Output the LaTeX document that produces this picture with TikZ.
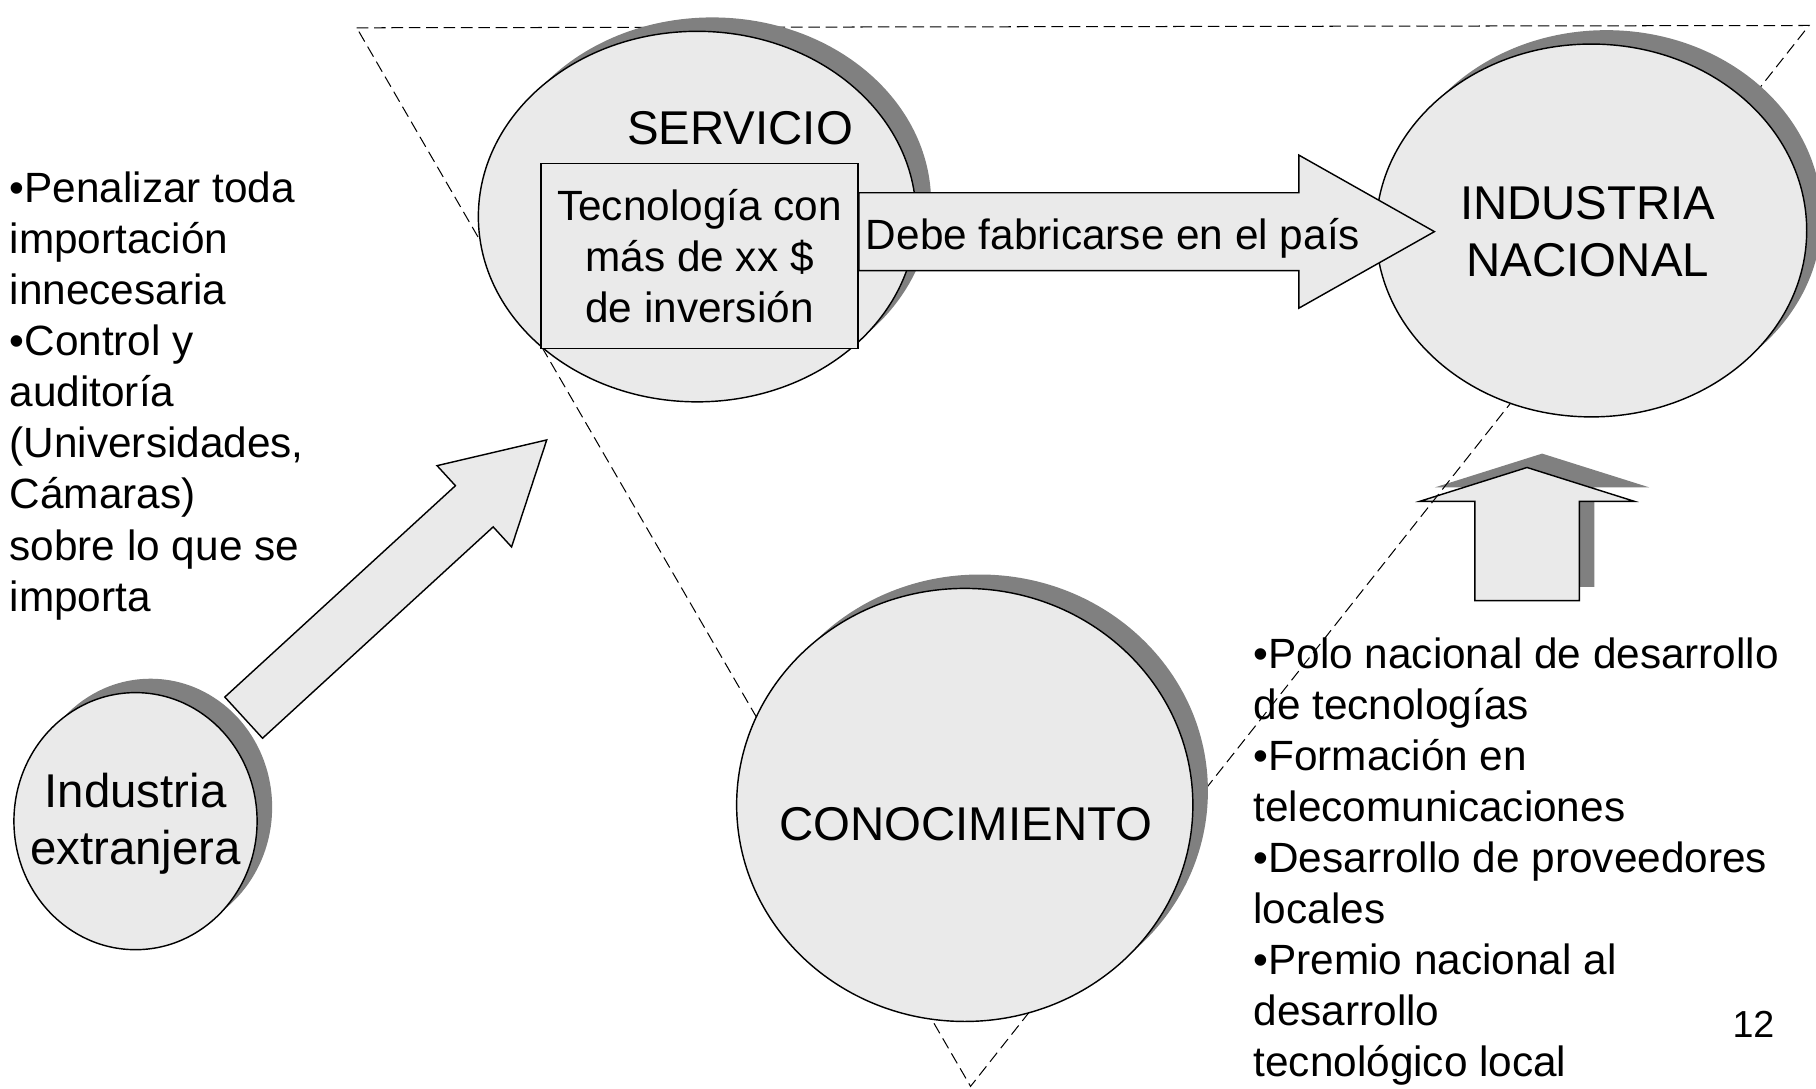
\documentclass[tikz,border=0pt]{standalone}
\usepackage{fontspec}
\setmainfont{Liberation Sans}
\usetikzlibrary{shapes.geometric,shapes.arrows,shadows}
\definecolor{bubblegray}{HTML}{EAEAEA}
\definecolor{shadowgray}{HTML}{808080}
\tikzset{
  greyshadow/.style={drop shadow={shadow xshift=0.26cm, shadow yshift=0.24cm, fill=shadowgray, opacity=1}},
  bubble/.style={ellipse, draw=black, line width=0.7pt, fill=bubblegray, inner sep=0pt, greyshadow},
  bigtext/.style={font=\fontsize{23.3}{27.9}\selectfont, align=center, inner sep=0pt},
  bodytext/.style={font=\fontsize{20.8}{25.1}\selectfont, align=left, inner sep=0pt},
  blockarrow/.style={single arrow, draw=black, line width=0.7pt, fill=bubblegray},
  guide/.style={draw=black, line width=0.5pt, dash pattern=on 0.2cm off 0.1cm}
}

\begin{document}
\begin{tikzpicture}[x=0.02cm, y=-0.02cm]
	\useasboundingbox (0,0) rectangle (1568,940);
	% up arrow sits under the dashed triangle
	\node[blockarrow, greyshadow, shape border rotate=90, inner sep=0.89cm, minimum height=2.3cm, minimum width=3.68cm, single arrow head extend=0.95cm, single arrow tip angle=145, anchor=tip] (uparrow) at (1318.5,403) {};
	% dashed triangle
	\coordinate (tl) at (308,24);
	\coordinate (tr) at (1562,22);
	\coordinate (bt) at (838,938);
	\draw[guide] (tl) -- (tr) -- (bt) -- cycle;
	% bubbles
	\node[bubble, minimum width=7.56cm, minimum height=6.4cm] (servicio) at (602,187) {};
	\node[bubble, minimum width=7.44cm, minimum height=6.44cm] (nacional) at (1374,199) {};
	\node[bubble, minimum width=7.88cm, minimum height=7.48cm] (cono) at (833,695) {};
	\node[bubble, minimum width=4.2cm, minimum height=4.44cm] (extranjera) at (117,709) {};
	% block arrows
	\node[blockarrow, inner sep=0.66cm, minimum height=9.94cm, minimum width=2.62cm, single arrow head extend=0.65cm, single arrow tip angle=58.9, anchor=tail] (debe) at (741,200) {};
	\node[blockarrow, rotate=42.5, inner sep=0.47cm, minimum height=7.1cm, minimum width=1.88cm, single arrow head extend=0.47cm, single arrow tip angle=58.6, anchor=tip] (importa) at (473,379) {};
	\node[draw=black, line width=0.7pt, fill=bubblegray, minimum width=5.48cm, minimum height=3.2cm, bodytext, align=center] (tecno) at (604,221) {Tecnología con\\más de xx \$\\de inversión};
	% labels
	\node[bigtext, anchor=base] (servtext) at (639,125) {SERVICIO};
	\node[bigtext] (nactext) at (1371,200) {INDUSTRIA\\NACIONAL};
	\node[bigtext, anchor=base] (conotext) at (834,726) {CONOCIMIENTO};
	\node[bigtext] (extrtext) at (117,711) {Industria\\extranjera};
	\node[bodytext, anchor=base] (debetext) at (961,215) {Debe fabricarse en el país};
	\node[bodytext, anchor=north west] (penal) at (8,148) {•Penalizar toda\\importación\\innecesaria\\•Control y\\auditoría\\(Universidades,\\Cámaras)\\sobre lo que se\\importa};
	\node[bodytext, anchor=north west] (polo) at (1082,550) {•Polo nacional de desarrollo\\de tecnologías\\•Formación en\\telecomunicaciones\\•Desarrollo de proveedores\\locales\\•Premio nacional al\\desarrollo\\tecnológico local};
	\node[font=\fontsize{18.5}{20}\selectfont, anchor=base, inner sep=0pt] (pagenum) at (1514,896) {12};
\end{tikzpicture}
\end{document}
